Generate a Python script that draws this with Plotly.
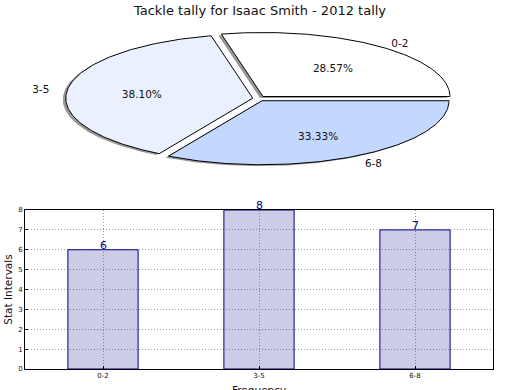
import numpy as np
import plotly.graph_objects as go

# ---- data ----
categories = ['0-2', '3-5', '6-8']
tackles = [6, 8, 7]
y_ticks = [0, 1, 2, 3, 4, 5, 6, 7, 8]
chart_title = 'Tackle tally for Isaac Smith - 2012 tally'
x_title = 'Frequency'
y_title = 'Stat Intervals'

# ---- styles ----
pie_colors = ['#FFFFFF', '#EAF0FE', '#C4D7FE']
explode = [0.04, 0.03, 0.04]
shadow_dx, shadow_dy = -0.016, -0.022
label_dist, pct_dist = 1.1, 0.6
text_dy = -3.0 / 64          # small vertical nudge for pie texts
font_family = 'DejaVu Sans'
W, H = 520, 390

fig = go.Figure()

# ---- elliptical exploded pie (unit circle on stretched axes) ----
total = float(sum(tackles))
fracs = [v / total for v in tackles]
wedges = []
start = 0.0
for frac, ex in zip(fracs, explode):
    t1, t2 = start, start + 360.0 * frac
    mid = np.deg2rad((t1 + t2) / 2.0)
    cx, cy = ex * np.cos(mid), ex * np.sin(mid)
    ang = np.deg2rad(np.linspace(t1, t2, 150))
    xs = np.concatenate([[cx], cx + np.cos(ang), [cx]])
    ys = np.concatenate([[cy], cy + np.sin(ang), [cy]])
    wedges.append((xs, ys, mid, cx, cy, frac))
    start = t2

for xs, ys, *_ in wedges:
    fig.add_trace(go.Scatter(
        x=xs + shadow_dx, y=ys + shadow_dy, mode='lines', fill='toself',
        fillcolor='rgba(70,70,70,0.55)', line=dict(width=0),
        xaxis='x2', yaxis='y2', hoverinfo='skip', showlegend=False))

for (xs, ys, mid, cx, cy, frac), col in zip(wedges, pie_colors):
    fig.add_trace(go.Scatter(
        x=xs, y=ys, mode='lines', fill='toself', fillcolor=col,
        line=dict(color='black', width=1),
        xaxis='x2', yaxis='y2', hoverinfo='skip', showlegend=False))

for (xs, ys, mid, cx, cy, frac), lab in zip(wedges, categories):
    px_ = cx + pct_dist * np.cos(mid)
    py_ = cy + pct_dist * np.sin(mid) + text_dy
    fig.add_trace(go.Scatter(
        x=[px_], y=[py_], mode='text', text=['%.2f%%' % (100 * frac)],
        textposition='middle center',
        textfont=dict(family=font_family, size=10.5, color='#111'),
        xaxis='x2', yaxis='y2', hoverinfo='skip', showlegend=False))
    lx = cx + label_dist * np.cos(mid)
    ly = cy + label_dist * np.sin(mid) + text_dy
    fig.add_trace(go.Scatter(
        x=[lx], y=[ly], mode='text', text=[lab],
        textposition='middle right' if lx > 0 else 'middle left',
        textfont=dict(family=font_family, size=10.5, color='#111'),
        xaxis='x2', yaxis='y2', hoverinfo='skip', showlegend=False))

# ---- bar chart ----
fig.add_trace(go.Bar(
    x=categories, y=tackles, width=0.45,
    marker=dict(color='rgba(0,0,128,0.2)', line=dict(color='#000080', width=1)),
    showlegend=False, hoverinfo='skip'))

for cat, val in zip(categories, tackles):
    fig.add_annotation(x=cat, y=val, xref='x', yref='y', text=str(val),
                       showarrow=False, yanchor='bottom', xanchor='center',
                       yshift=-4,
                       font=dict(family=font_family, size=11, color='#000080'))

# x-axis title (sits at the very bottom edge, as in the original)
fig.add_annotation(x=259 / W, y=8 / H, xref='paper', yref='paper',
                   text=x_title, showarrow=False, xanchor='center', yanchor='top',
                   font=dict(family=font_family, size=10.5, color='#111'))

axis_common = dict(
    showline=True, mirror=True, linecolor='black', linewidth=1,
    ticks='inside', ticklen=3, tickcolor='black',
    showgrid=True, gridcolor='#a0a0a0', griddash='1px,2px', gridwidth=1,
    zeroline=False, automargin=False,
    tickfont=dict(family=font_family, size=7, color='#111'),
)

fig.update_layout(
    width=W, height=H,
    margin=dict(l=0, r=0, t=0, b=0),
    paper_bgcolor='white', plot_bgcolor='white',
    font=dict(family=font_family, color='#111'),
    title=dict(text=chart_title, x=0.5, xanchor='center',
               y=1 - 10 / H, yanchor='middle',
               font=dict(family=font_family, size=13, color='#111')),
    xaxis=dict(domain=[25 / W, 493 / W], anchor='y', range=[-0.5, 2.5],
               **axis_common),
    yaxis=dict(domain=[21 / H, 180 / H], anchor='x', range=[0, 8],
               tickvals=y_ticks,
               title=dict(text=y_title, standoff=3,
                          font=dict(family=font_family, size=10.5)),
               **axis_common),
    xaxis2=dict(domain=[0, 1], anchor='y2', range=[-258.3 / 187, 261.7 / 187],
                visible=False, automargin=False),
    yaxis2=dict(domain=[0.5, 1], anchor='x2', range=[-96.5 / 64, 98.5 / 64],
                visible=False, automargin=False),
)

fig.write_html('out.html', config={'displayModeBar': False},
               post_script="document.body.style.margin='0px';")
